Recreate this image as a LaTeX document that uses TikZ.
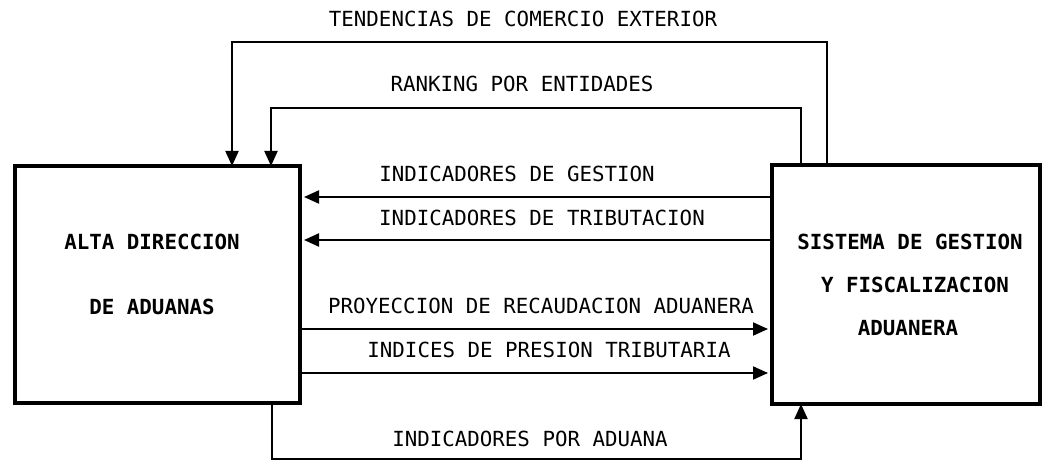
\documentclass[tikz,border=0pt]{standalone}
\usepackage{fontspec}
\setmonofont{DejaVu Sans Mono}
\usetikzlibrary{arrows.meta}
\begin{document}
\begin{tikzpicture}[x=1pt,y=-1pt,
  box/.style={draw,line width=4pt,inner sep=0pt},
  conn/.style={line width=2pt},
  arr/.style={conn,-{Triangle[length=15pt,width=13pt]}},
  lbl/.style={font=\ttfamily\fontsize{20.8}{24}\selectfont,inner sep=0pt},
  blbl/.style={font=\ttfamily\bfseries\fontsize{20.8}{24}\selectfont,inner sep=0pt}]
\useasboundingbox (0,0) rectangle (1043,462);
% boxes
\node[box,minimum width=285pt,minimum height=237pt] (L) at (157.5,284.5) {};
\node[box,minimum width=268pt,minimum height=239pt] (R) at (906,284.5) {};
% box texts
\node[blbl] (l1) at (152,242) {ALTA DIRECCION};
\node[blbl] (l2) at (152,307) {DE ADUANAS};
\node[blbl] (r1t) at (910,242) {SISTEMA DE GESTION};
\node[blbl] (r2t) at (915,285) {Y FISCALIZACION};
\node[blbl] (r3t) at (908,328) {ADUANERA};
% coordinates
\coordinate (t1) at (827,42);
\coordinate (t2) at (232,42);
\coordinate (k1) at (801,108);
\coordinate (k2) at (271,108);
\coordinate (g) at (0,197);
\coordinate (tb) at (0,240);
\coordinate (p) at (0,329);
\coordinate (ip) at (0,373);
\coordinate (a1) at (272,459);
\coordinate (a2) at (801,459);
% connectors
\draw[arr] (R.north -| t1) -- (t1) -- (t2) -- ([yshift=-2pt]L.north -| t2);
\draw[arr] (R.north -| k1) -- (k1) -- (k2) -- ([yshift=-2pt]L.north -| k2);
\draw[arr] (R.west |- g) -- ([xshift=2pt]L.east |- g);
\draw[arr] (R.west |- tb) -- ([xshift=2pt]L.east |- tb);
\draw[arr] (L.east |- p) -- ([xshift=-2pt]R.west |- p);
\draw[arr] (L.east |- ip) -- ([xshift=-2pt]R.west |- ip);
\draw[arr] (L.south -| a1) -- (a1) -- (a2) -- ([yshift=2pt]R.south -| a2);
% labels
\node[lbl] (n1) at (523,19) {TENDENCIAS DE COMERCIO EXTERIOR};
\node[lbl] (n2) at (522,84) {RANKING POR ENTIDADES};
\node[lbl] (n3) at (517,174) {INDICADORES DE GESTION};
\node[lbl] (n4) at (542,218) {INDICADORES DE TRIBUTACION};
\node[lbl] (n5) at (541,306) {PROYECCION DE RECAUDACION ADUANERA};
\node[lbl] (n6) at (549,350) {INDICES DE PRESION TRIBUTARIA};
\node[lbl] (n7) at (530,439) {INDICADORES POR ADUANA};
\end{tikzpicture}
\end{document}
